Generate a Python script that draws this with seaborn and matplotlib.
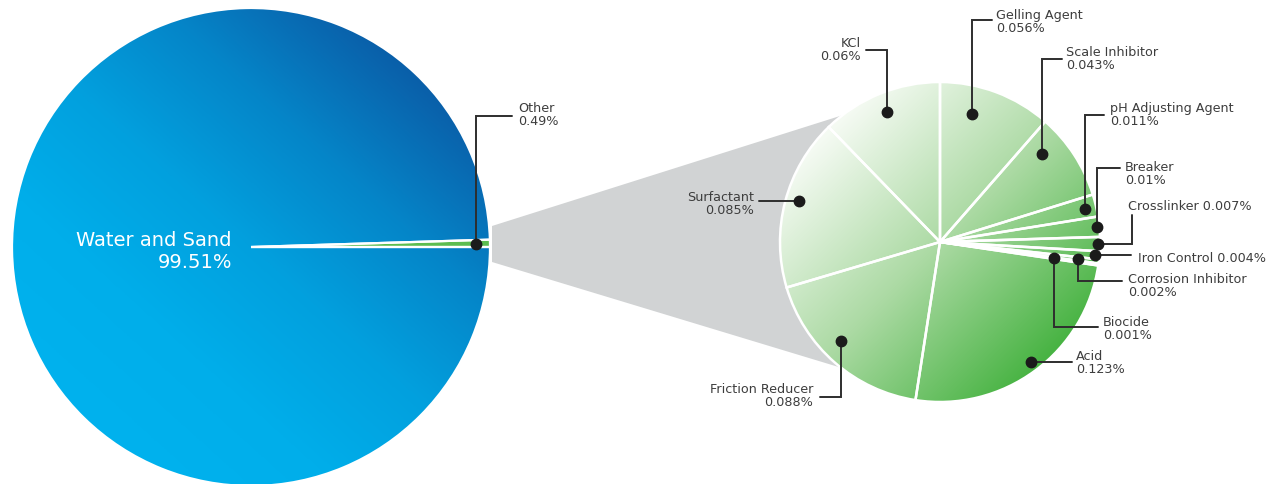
import numpy as np
import seaborn as sns
import matplotlib.pyplot as plt
from matplotlib.patches import Polygon

W, H = 1278, 485

# Dados
total_labels = ['Other', 'Water and Sand']
total_values = [0.49, 99.51]

other_labels = ['KCl', 'Gelling Agent', 'Scale Inhibitor', 'pH Adjusting Agent', 'Breaker',
                'Crosslinker', 'Iron Control', 'Corrosion Inhibitor', 'Biocide', 'Acid',
                'Friction Reducer', 'Surfactant']
other_values = [0.06, 0.056, 0.043, 0.011, 0.01, 0.007, 0.004, 0.002, 0.001, 0.123, 0.088, 0.085]

# Estilo
sns.set_theme(style='white')
plt.rcParams['font.family'] = ['DejaVu Sans']
text_color = '#3d3d3d'
line_color = '#2e2e2e'
blues = sns.blend_palette(['#00b2ee', '#00aeea', '#02a0de', '#0585c8', '#0a5fa9'], as_cmap=True)
greens = sns.blend_palette(['#f6fbf4', '#acdaa4', '#47b342'], as_cmap=True)

fig = plt.figure(figsize=(W / 100, H / 100), dpi=100)
ax = fig.add_axes([0, 0, 1, 1])


def iy(y):
    # y da imagem -> y dos dados
    return H - y


def gradient_fill(wedges, cx, cy, r, cmap, direction, z=3):
    xs = np.linspace(-1, 1, 300)
    gx, gy = np.meshgrid(xs, xs)
    t = (gx * direction[0] + gy * direction[1]) / np.hypot(*direction)
    for w in wedges:
        im = ax.imshow(t, cmap=cmap, vmin=-1, vmax=1, origin='lower', interpolation='bilinear',
                       extent=[cx - r, cx + r, cy - r, cy + r], zorder=z)
        im.set_clip_path(w)


# pizza da esquerda
lcx, lcy, lr = 251, iy(248), 239
lw, _ = ax.pie(total_values, startangle=0, counterclock=True, center=(lcx, lcy), radius=lr,
               frame=True, wedgeprops=dict(facecolor='none', edgecolor='white', linewidth=1.6, zorder=4))
lw[0].set_facecolor('#5cbd50')
gradient_fill(lw[1:], lcx, lcy, lr, blues, (0.9, 1))

# pizza da direita (KCl fica à esquerda do topo)
rcx, rcy, rr = 940, iy(243), 160
start = 90 + 360 * other_values[0] / sum(other_values)
rw, _ = ax.pie(other_values, startangle=start, counterclock=False, center=(rcx, rcy), radius=rr,
               frame=True, wedgeprops=dict(facecolor='none', edgecolor='white', linewidth=1.8, zorder=4))
gradient_fill(rw, rcx, rcy, rr, greens, (1, -1))

# ligação cinza
a1, a2 = np.deg2rad(127.6), np.deg2rad(-128.2)
conn = [(lcx + lr + 2, lcy + 21), (rcx + rr * np.cos(a1), rcy + rr * np.sin(a1)), (rcx, rcy),
        (rcx + rr * np.cos(a2), rcy + rr * np.sin(a2)), (lcx + lr + 2, lcy - 15)]
ax.add_patch(Polygon(conn, closed=True, facecolor='#d1d3d4', edgecolor='none', zorder=1))

ax.text(232, iy(252), f'{total_labels[1]}\n{total_values[1]:g}%', color='white', fontsize=14,
        ha='right', va='center', multialignment='right', linespacing=1.2, zorder=6)

# chamadas: raio do ponto, desvio do ângulo, caminho (imagem), posição do texto
leaders = {
    'Other': (0.94, 0, [('v', 117), ('h', 512)], (518, 115), 'left', True),
    'KCl': (0.875, 0, [('v', 51), ('h', 866)], (861, 50), 'right', True),
    'Gelling Agent': (0.825, 6.5, [('v', 21), ('h', 992)], (996, 22), 'left', True),
    'Scale Inhibitor': (0.845, 7.7, [('v', 60), ('h', 1062)], (1066, 59), 'left', True),
    'pH Adjusting Agent': (0.93, -0.5, [('v', 116), ('h', 1104)], (1110, 115), 'left', True),
    'Breaker': (0.985, 0, [('v', 169), ('h', 1120)], (1125, 174), 'left', True),
    'Crosslinker': (0.985, 0, [('h', 1132), ('v', 216)], (1128, 206), 'left', False),
    'Iron Control': (0.97, 0, [('h', 1131)], (1138, 258), 'left', False),
    'Corrosion Inhibitor': (0.87, 0, [('v', 282), ('h', 1122)], (1128, 286), 'left', True),
    'Biocide': (0.72, 0, [('v', 328), ('h', 1098)], (1103, 329), 'left', True),
    'Acid': (0.94, 1, [('h', 1072)], (1076, 363), 'left', True),
    'Friction Reducer': (0.875, -4, [('v', 398), ('h', 820)], (813, 396), 'right', True),
    'Surfactant': (0.92, -1.6, [('h', 759)], (754, 204), 'right', True),
}


def annotate(wedge, label, value, cx, cy, r):
    rf, da, path, (tx, ty), ha, two_lines = leaders[label]
    ang = np.deg2rad((wedge.theta1 + wedge.theta2) / 2 + da)
    x, y = cx + rf * r * np.cos(ang), cy + rf * r * np.sin(ang)
    xs, ys = [x], [y]
    for kind, v in path:
        if kind == 'v':
            y = iy(v)
        else:
            x = v
        xs.append(x)
        ys.append(y)
    ax.plot(xs, ys, color=line_color, linewidth=1.4, solid_joinstyle='miter', zorder=5)
    ax.plot(xs[0], ys[0], 'o', color='#1b1b1b', markersize=7.5, zorder=6)
    sep = '\n' if two_lines else ' '
    ax.text(tx, iy(ty), f'{label}{sep}{value:g}%', color=text_color, fontsize=9.2, ha=ha,
            va='center', multialignment=ha, linespacing=0.98, zorder=6)


annotate(lw[0], total_labels[0], total_values[0], lcx, lcy, lr)
for w, lab, val in zip(rw, other_labels, other_values):
    annotate(w, lab, val, rcx, rcy, rr)

ax.set_xlim(0, W)
ax.set_ylim(0, H)
ax.set_aspect('equal')
ax.axis('off')

plt.savefig('out.png', dpi=100)
